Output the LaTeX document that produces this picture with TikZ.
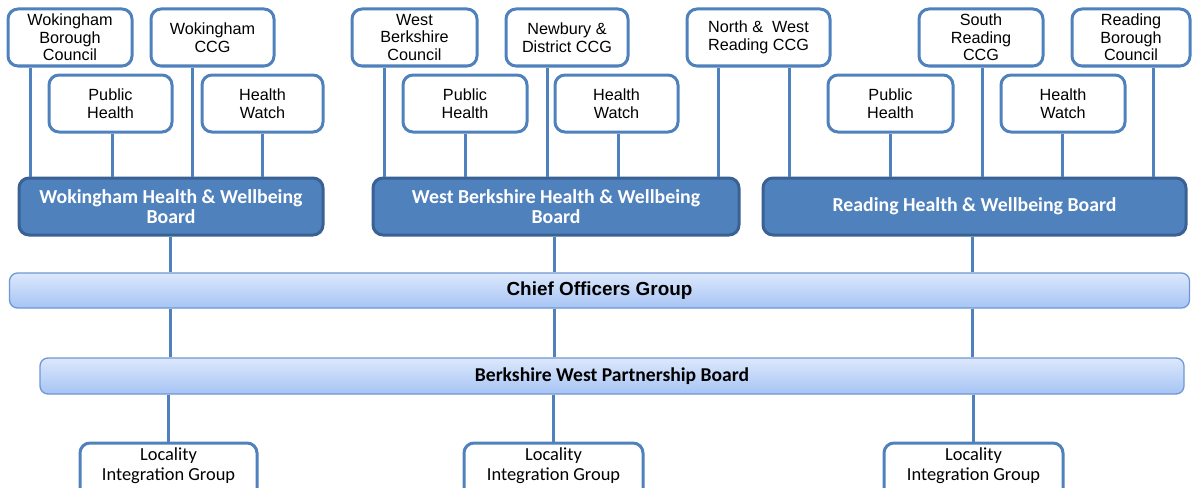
\documentclass[tikz,border=0pt]{standalone}
\usepackage{fontspec}
\setmainfont{Liberation Sans}
\newfontfamily\calibri{Carlito}
\usetikzlibrary{positioning}
\definecolor{orgblue}{HTML}{4F81BD}
\definecolor{orgdark}{HTML}{3A6194}
\definecolor{bartop}{HTML}{DCE8FC}
\definecolor{barbot}{HTML}{A6C4F4}
\definecolor{barline}{HTML}{6E97D4}

\begin{document}
\begin{tikzpicture}[x=1pt,y=-1pt,
  orgbox/.style={draw=orgblue,line width=3pt,rounded corners=10pt,fill=white,align=center,
    minimum height=57pt,inner sep=0pt,font=\fontsize{16.2}{17.5}\selectfont},
  board/.style={draw=orgdark,line width=3pt,rounded corners=10pt,fill=orgblue,text=white,
    align=center,minimum height=57pt,inner sep=0pt,font=\calibri\bfseries\fontsize{19.8}{20.5}\selectfont},
  bar/.style={draw=barline,line width=1.3pt,rounded corners=8pt,top color=bartop,bottom color=barbot,
    inner sep=0pt},
  locbox/.style={orgbox,font=\calibri\fontsize{18.4}{20}\selectfont,text depth=14pt},
  link/.style={draw=orgblue,line width=3pt}]
\useasboundingbox (0,0) rectangle (1193,487);
\clip (0,0) rectangle (1193,487);

% partner organisations
\node[orgbox,minimum width=124pt] (wbc) at (70,37.5) {Wokingham\\Borough\\Council};
\node[orgbox,minimum width=123pt] (wccg) at (212.5,37.5) {Wokingham\\CCG};
\node[orgbox,minimum width=123pt] (wph) at (110.5,103.5) {Public\\Health};
\node[orgbox,minimum width=121pt] (whw) at (262.5,103.5) {Health\\Watch};
\node[orgbox,minimum width=125pt] (wbkc) at (414.5,37.5) {West\\Berkshire\\Council};
\node[orgbox,minimum width=122pt] (nccg) at (567,37.5) {Newbury \&\\District CCG};
\node[orgbox,minimum width=143pt] (nwccg) at (758.5,37.5) {North \&~~West\\Reading CCG};
\node[orgbox,minimum width=124pt] (bph) at (465,103.5) {Public\\Health};
\node[orgbox,minimum width=123pt] (bhw) at (616.5,103.5) {Health\\Watch};
\node[orgbox,minimum width=124pt] (srccg) at (981,37.5) {South\\Reading\\CCG};
\node[orgbox,minimum width=118pt] (rbc) at (1131,37.5) {Reading\\Borough\\Council};
\node[orgbox,minimum width=125pt] (rph) at (890.5,103.5) {Public\\Health};
\node[orgbox,minimum width=124pt] (rhw) at (1063,103.5) {Health\\Watch};

% health and wellbeing boards
\node[board,minimum width=304pt] (whwb) at (171,206.5) {Wokingham Health \& Wellbeing\\Board};
\node[board,minimum width=366pt] (bhwb) at (556,206.5) {West Berkshire Health \& Wellbeing\\Board};
\node[board,minimum width=423pt] (rhwb) at (974.5,206.5) {Reading Health \& Wellbeing Board};

\node[bar,minimum width=1180pt,minimum height=35pt,font=\bfseries\fontsize{18.9}{20}\selectfont]
  (chief) at (599.5,290.5) {Chief Officers Group};
\node[bar,minimum width=1144pt,minimum height=36pt,font=\calibri\bfseries\fontsize{19.6}{20}\selectfont]
  (pb) at (612,376) {Berkshire West Partnership Board};

\node[locbox,minimum width=177pt] (lig1) at (168.5,471.5) {Locality\\Integration Group};
\node[locbox,minimum width=179pt] (lig2) at (553.5,471.5) {Locality\\Integration Group};
\node[locbox,minimum width=179pt] (lig3) at (973.5,471.5) {Locality\\Integration Group};

\foreach \a/\b/\x in {wbc/whwb/30,wph/whwb/112,wccg/whwb/192,whw/whwb/262,
    wbkc/bhwb/384,bph/bhwb/465,nccg/bhwb/547,bhw/bhwb/618,nwccg/bhwb/718,
    nwccg/rhwb/789,rph/rhwb/890,srccg/rhwb/982,rhw/rhwb/1062,rbc/rhwb/1153,
    whwb/chief/170,bhwb/chief/554,rhwb/chief/972,
    chief/pb/170,chief/pb/554,chief/pb/972,
    pb/lig1/168,pb/lig2/553,pb/lig3/973}
  \draw[link] (\a.south -| \x,0) -- (\b.north -| \x,0);
\end{tikzpicture}
\end{document}
